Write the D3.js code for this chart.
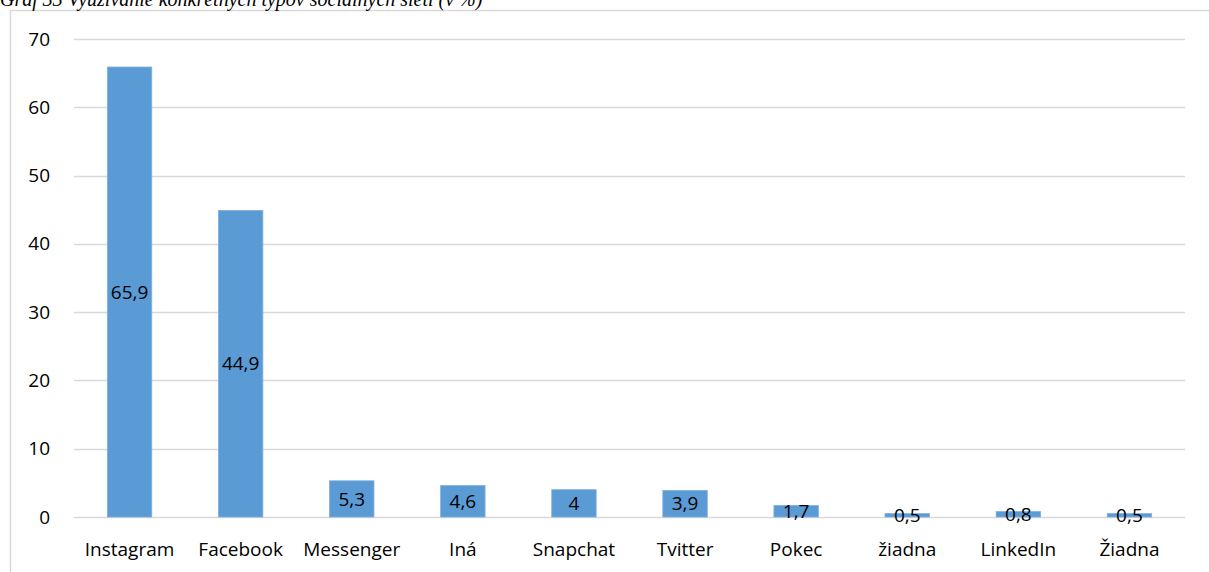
<!DOCTYPE html>
<html>
<head>
<meta charset="utf-8">
<script src="https://cdn.jsdelivr.net/npm/d3@7"></script>
<style>
  body { margin: 0; background: #fff; }
  svg { display: block; }
</style>
</head>
<body>
<div id="chart"></div>
<script>
// data
const categories = ["Instagram", "Facebook", "Messenger", "Iná", "Snapchat", "Tvitter", "Pokec", "žiadna", "LinkedIn", "Žiadna"];
const values = [65.9, 44.9, 5.3, 4.6, 4, 3.9, 1.7, 0.5, 0.8, 0.5];
const yTicks = [0, 10, 20, 30, 40, 50, 60, 70];

const W = 1209, H = 572;
const svg = d3.select("#chart").append("svg").attr("width", W).attr("height", H);

const plotLeft = 74, plotRight = 1185, plotTop = 39, plotBottom = 517;

// chart frame (runs past the window on right/bottom)
svg.append("rect")
  .attr("x", 10.5).attr("y", 10.5)
  .attr("width", 1230).attr("height", 600)
  .attr("fill", "none").attr("stroke", "#d9d9d9").attr("stroke-width", 1.5);

// title, cut at the top
svg.append("text")
  .attr("x", 0).attr("y", 6)
  .attr("font-family", "'Liberation Serif', 'Times New Roman', serif")
  .attr("font-style", "italic")
  .attr("font-size", 20)
  .attr("fill", "#000")
  .text("Graf 33 Využívanie konkrétnych typov sociálnych sietí (v %)");

const x = d3.scaleBand().domain(categories).range([plotLeft, plotRight]).paddingInner(0.6).paddingOuter(0.3);
const y = d3.scaleLinear().domain([0, 70]).range([plotBottom, plotTop]);

const font = "'Open Sans', 'Noto Sans', sans-serif";
const fs = 19;

// gridlines
svg.append("g")
  .selectAll("line")
  .data(yTicks)
  .enter()
  .append("line")
  .attr("x1", plotLeft).attr("x2", plotRight)
  .attr("y1", (d) => Math.round(y(d)) + 0.5).attr("y2", (d) => Math.round(y(d)) + 0.5)
  .attr("stroke", "#d9d9d9").attr("stroke-width", 1.5);

// y axis labels
const yAxis = svg.append("g").attr("transform", `translate(${plotLeft},0)`)
  .call(d3.axisLeft(y).tickValues(yTicks).tickSize(0).tickPadding(24));
yAxis.select(".domain").remove();
yAxis.selectAll("text").attr("font-family", font).attr("font-size", fs).attr("fill", "#000");

// bars
svg.selectAll(".bar")
  .data(values)
  .enter()
  .append("rect")
  .attr("class", "bar")
  .attr("x", (d, i) => x(categories[i]))
  .attr("y", (d) => y(d))
  .attr("width", x.bandwidth())
  .attr("height", (d) => y(0) - y(d))
  .attr("fill", "#5b9bd5")
  .attr("stroke", "#7fb0df").attr("stroke-width", 0.8);

// x axis labels
const xAxis = svg.append("g").attr("transform", `translate(0,${plotBottom})`)
  .call(d3.axisBottom(x).tickSize(0).tickPadding(26));
xAxis.select(".domain").remove();
xAxis.selectAll("text").attr("font-family", font).attr("font-size", fs).attr("fill", "#000");

// data labels, centred in the bar
svg.selectAll(".lbl")
  .data(values)
  .enter()
  .append("text")
  .attr("class", "lbl")
  .attr("x", (d, i) => x(categories[i]) + x.bandwidth() / 2)
  .attr("y", (d) => (y(d) + y(0)) / 2)
  .attr("dy", "0.35em")
  .attr("text-anchor", "middle")
  .attr("font-family", font).attr("font-size", fs).attr("fill", "#000")
  .text((d) => String(d).replace(".", ","));
</script>
</body>
</html>
